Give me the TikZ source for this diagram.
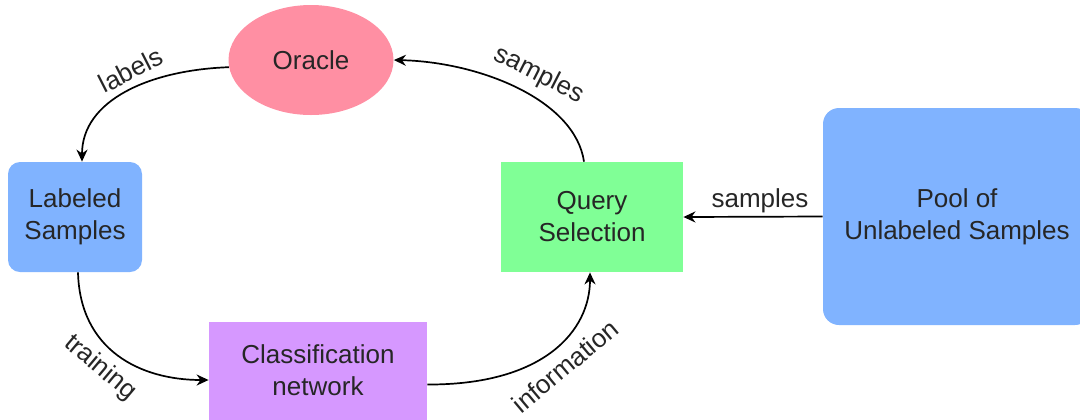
\documentclass[tikz,border=0pt]{standalone}
\usepackage{fontspec}
\setmainfont{Liberation Sans}
\usepackage{tikz}
\usetikzlibrary{arrows.meta,shapes.geometric}
\definecolor{oraclepink}{RGB}{255,143,163}
\definecolor{poolblue}{RGB}{128,179,255}
\definecolor{querygreen}{RGB}{128,255,150}
\definecolor{netpurple}{RGB}{214,152,255}

\begin{document}
\begin{tikzpicture}[x=0.5pt,y=-0.5pt,
    font=\fontsize{13}{16}\selectfont,text=black!85,
    box/.style={align=center,inner sep=0pt},
    flow/.style={-{Stealth[length=6pt,width=5.5pt]},line width=0.85pt,black},
    lab/.style={inner sep=1pt}]
    \useasboundingbox (0,0) rectangle (1080,419);
    \clip (0,0) rectangle (1080,419);
    % the nodes
    \node[box,ellipse,fill=oraclepink,minimum width=82.5pt,minimum height=55pt] (oracle) at (311,60) {Oracle};
    \node[box,fill=poolblue,rounded corners=6pt,minimum width=67pt,minimum height=55pt] (labeled) at (75,217) {Labeled\\Samples};
    \node[box,fill=querygreen,minimum width=91pt,minimum height=55pt] (query) at (592,217) {Query\\Selection};
    \node[box,fill=netpurple,minimum width=109pt,minimum height=49pt] (net) at (318,370.5) {Classification\\network};
    \node[box,fill=poolblue,rounded corners=8pt,minimum width=134pt,minimum height=108.5pt] (pool) at (957,216.5) {Pool of\\Unlabeled Samples};
    % the loop
    \draw[flow] (oracle.185) .. controls (150,70) and (82,100) .. ([xshift=3.5pt]labeled.north);
    \node[lab,rotate=27] (l1) at (131,70) {labels};
    \draw[flow] ([xshift=-4pt]query.north) .. controls (575,100) and (480,62) .. (oracle.east);
    \node[lab,rotate=-27] (l2) at (539,75) {samples};
    \draw[flow] ([xshift=1.5pt]labeled.south) .. controls (80,350) and (140,380) .. ([yshift=-4.75pt]net.west);
    \node[lab,rotate=-40] (l3) at (100,368) {training};
    \draw[flow] ([yshift=-7pt]net.east) .. controls (545,385) and (590,330) .. ([xshift=-1pt]query.south);
    \node[lab,rotate=40] (l4) at (565,366) {information};
    % pool to query
    \draw[flow] (pool.west) -- (query.east);
    \node[lab] (l5) at (760,201) {samples};
\end{tikzpicture}
\end{document}
